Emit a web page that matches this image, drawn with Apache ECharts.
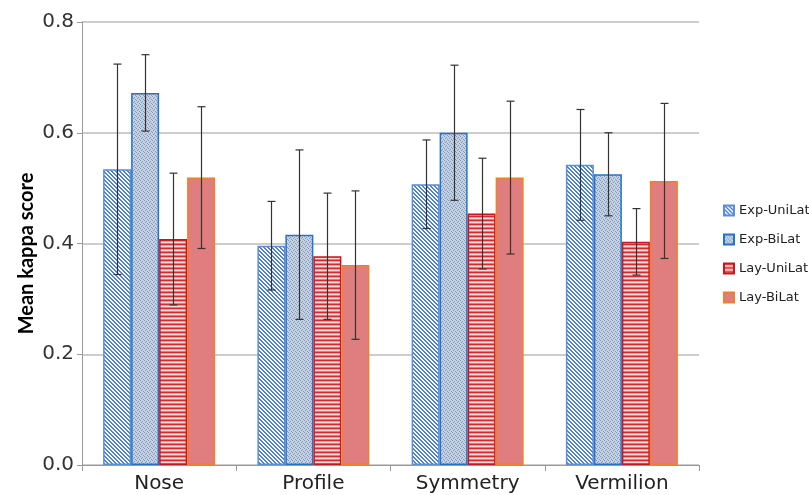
<!DOCTYPE html>
<html>
<head>
<meta charset="utf-8">
<script src="https://cdn.jsdelivr.net/npm/echarts@6/dist/echarts.min.js"></script>
<style>
  html, body { margin: 0; padding: 0; background: #fff; }
  #chart { width: 809px; height: 495px; }
</style>
</head>
<body>
<div id="chart"></div>
<script>
// data
const categories = ['Nose', 'Profile', 'Symmetry', 'Vermilion'];
const seriesNames = ['Exp-UniLat', 'Exp-BiLat', 'Lay-UniLat', 'Lay-BiLat'];

const expUniLat = [0.534, 0.396, 0.507, 0.542];
const expBiLat = [0.672, 0.416, 0.600, 0.525];
const layUniLat = [0.408, 0.377, 0.454, 0.403];
const layBiLat = [0.519, 0.361, 0.519, 0.513];

// half widths of the error bars
const expUniLatErr = [0.190, 0.080, 0.080, 0.100];
const expBiLatErr = [0.069, 0.153, 0.122, 0.075];
const layUniLatErr = [0.119, 0.114, 0.100, 0.060];
const layBiLatErr = [0.128, 0.134, 0.138, 0.140];

const yTicks = [0, 0.2, 0.4, 0.6, 0.8];

const BAR_W = 28;
const FONT = '"DejaVu Sans", Verdana, sans-serif';

// little tiles for the excel-like fill patterns
function tile (w, h, draw) {
  const c = document.createElement('canvas');
  c.width = w;
  c.height = h;
  draw(c.getContext('2d'));
  return c;
}

const hatchTile = tile(4, 4, ctx => {
  ctx.fillStyle = '#ffffff';
  ctx.fillRect(0, 0, 4, 4);
  ctx.fillStyle = '#4f82cc';
  for (let i = 0; i < 4; i++) {
    ctx.fillRect(i, i, 1, 1);
    ctx.fillRect((i + 1) % 4, i, 1, 1);
  }
});

const dotTile = tile(4, 4, ctx => {
  ctx.fillStyle = '#c4d1e3';
  ctx.fillRect(0, 0, 4, 4);
  ctx.fillStyle = '#8299bb';
  ctx.fillRect(0, 0, 1, 1);
  ctx.fillRect(2, 1, 1, 1);
  ctx.fillRect(1, 2, 1, 1);
  ctx.fillRect(3, 3, 1, 1);
});

const stripeTile = tile(4, 4, ctx => {
  const rows = ['#d42a30', '#ec9a9c', '#f8dada', '#e47a7d'];
  rows.forEach((col, i) => {
    ctx.fillStyle = col;
    ctx.fillRect(0, i, 4, 1);
  });
});

const styles = [
  { color: { image: hatchTile, repeat: 'repeat' }, borderColor: '#5b8fd6' },
  { color: { image: dotTile, repeat: 'repeat' }, borderColor: '#2473c8' },
  { color: { image: stripeTile, repeat: 'repeat' }, borderColor: '#c8161e' },
  { color: '#e07d7e', borderColor: '#ef7f2c' }
];

const means = [expUniLat, expBiLat, layUniLat, layBiLat];
const errs = [expUniLatErr, expBiLatErr, layUniLatErr, layBiLatErr];

// rows for the error bar series: [category, low, high, series]
const errRows = [];
means.forEach((vals, s) => {
  vals.forEach((v, c) => {
    errRows.push([c, v - errs[s][c], v + errs[s][c], s]);
  });
});

const chart = echarts.init(document.getElementById('chart'), null, { renderer: 'canvas' });

const option = {
  animation: false,
  textStyle: { fontFamily: FONT },
  grid: { left: 82, right: 110, top: 22, bottom: 30 },
  legend: {
    orient: 'vertical',
    left: 723,
    top: 204,
    padding: 0,
    itemWidth: 10,
    itemHeight: 10,
    itemGap: 16,
    icon: 'rect',
    data: seriesNames,
    textStyle: { fontFamily: FONT, fontSize: 13, color: '#222' }
  },
  xAxis: {
    type: 'category',
    data: categories,
    axisLine: { lineStyle: { color: '#999', width: 1 } },
    axisTick: { show: true, length: 6, lineStyle: { color: '#999' } },
    axisLabel: { fontFamily: FONT, fontSize: 20, color: '#222', margin: 9 }
  },
  yAxis: {
    type: 'value',
    min: 0,
    max: 0.8,
    interval: 0.2,
    name: 'Mean kappa score',
    nameLocation: 'middle',
    nameGap: 45,
    nameMoveOverlap: false,
    nameTextStyle: {
      fontFamily: 'Lato, sans-serif',
      fontWeight: 'bold',
      fontSize: 20,
      color: '#000',
      padding: [0, 20, 0, 0]
    },
    axisLine: { show: true, lineStyle: { color: '#999', width: 1 } },
    axisTick: { show: true, length: 5, lineStyle: { color: '#999' } },
    axisLabel: {
      fontFamily: FONT,
      fontSize: 20,
      color: '#333',
      margin: 8,
      formatter: v => yTicks.includes(+v.toFixed(1)) ? v.toFixed(1) : ''
    },
    splitLine: { lineStyle: { color: '#bdbdbd', width: 1.5 } }
  },
  series: seriesNames.map((name, s) => ({
    name: name,
    type: 'bar',
    barWidth: BAR_W,
    barGap: 0,
    data: means[s],
    itemStyle: Object.assign({ borderWidth: 1.5 }, styles[s])
  })).concat([{
    name: 'err',
    type: 'custom',
    z: 10,
    data: errRows,
    encode: { x: 0, y: [1, 2] },
    renderItem: function (params, api) {
      const c = api.value(0);
      const s = api.value(3);
      const lo = api.coord([c, api.value(1)]);
      const hi = api.coord([c, api.value(2)]);
      const x = Math.round(lo[0] + (s - 1.5) * BAR_W) + 0.5;
      const cap = 4;
      const st = { stroke: '#333', lineWidth: 1.2 };
      return {
        type: 'group',
        children: [
          { type: 'line', shape: { x1: x, y1: hi[1], x2: x, y2: lo[1] }, style: st },
          { type: 'line', shape: { x1: x - cap, y1: hi[1], x2: x + cap, y2: hi[1] }, style: st },
          { type: 'line', shape: { x1: x - cap, y1: lo[1], x2: x + cap, y2: lo[1] }, style: st }
        ]
      };
    }
  }])
};

chart.setOption(option);
</script>
</body>
</html>
